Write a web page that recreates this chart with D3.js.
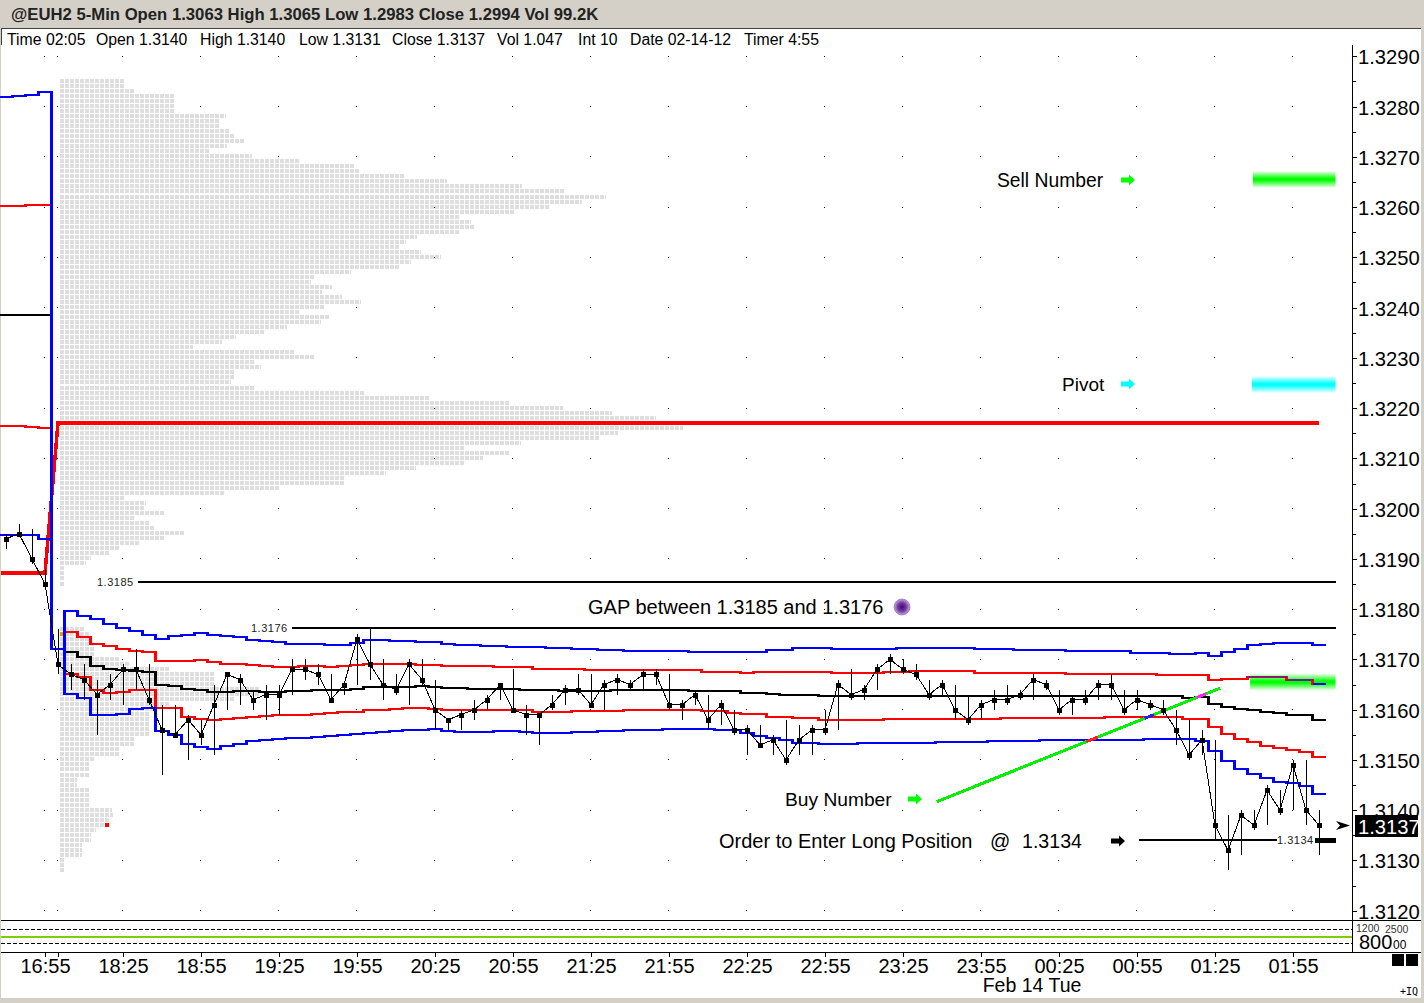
<!DOCTYPE html>
<html>
<head>
<meta charset="utf-8">
<title>@EUH2 5-Min</title>
<script src="https://cdn.jsdelivr.net/npm/d3@7"></script>
<style>
  html, body { margin: 0; padding: 0; background: #fff; overflow: hidden; }
  svg { display: block; }
  text { font-family: "Liberation Sans", Arial, sans-serif; fill: #000; }
  .crisp { shape-rendering: crispEdges; }
</style>
</head>
<body>
<div id="chart"></div>
<script>
// Bar times, one per 5 minute bar
var barTimes = [
  '16:40','16:45','16:50','16:55','18:00','18:05','18:10','18:15','18:20','18:25',
  '18:30','18:35','18:40','18:45','18:50','18:55','19:00','19:05','19:10','19:15',
  '19:20','19:25','19:30','19:35','19:40','19:45','19:50','19:55','20:00','20:05',
  '20:10','20:15','20:20','20:25','20:30','20:35','20:40','20:45','20:50','20:55',
  '21:00','21:05','21:10','21:15','21:20','21:25','21:30','21:35','21:40','21:45',
  '21:50','21:55','22:00','22:05','22:10','22:15','22:20','22:25','22:30','22:35',
  '22:40','22:45','22:50','22:55','23:00','23:05','23:10','23:15','23:20','23:25',
  '23:30','23:35','23:40','23:45','23:50','23:55','00:00','00:05','00:10','00:15',
  '00:20','00:25','00:30','00:35','00:40','00:45','00:50','00:55','01:00','01:05',
  '01:10','01:15','01:20','01:25','01:30','01:35','01:40','01:45','01:50','01:55',
  '02:00','02:05'
];

var closes = [
  1.3194,1.3195,1.3190,1.3185,1.3169,1.3167,1.3166,1.3163,1.3165,1.3168,
  1.3168,1.3162,1.3156,1.3155,1.3158,1.3155,1.3161,1.3167,1.3166,1.3162,
  1.3163,1.3163,1.3168,1.3168,1.3167,1.3162,1.3165,1.3174,1.3169,1.3165,
  1.3164,1.3169,1.3166,1.3160,1.3158,1.3159,1.3160,1.3162,1.3165,1.3160,
  1.3159,1.3159,1.3161,1.3164,1.3164,1.3161,1.3165,1.3166,1.3165,1.3167,
  1.3167,1.3161,1.3161,1.3163,1.3158,1.3161,1.3156,1.3156,1.3153,1.3154,
  1.3150,1.3154,1.3156,1.3156,1.3165,1.3163,1.3164,1.3168,1.3170,1.3168,
  1.3167,1.3163,1.3165,1.3160,1.3158,1.3161,1.3162,1.3162,1.3163,1.3166,
  1.3165,1.3160,1.3162,1.3162,1.3165,1.3165,1.3160,1.3162,1.3161,1.3160,
  1.3156,1.3151,1.3154,1.3137,1.3132,1.3139,1.3137,1.3144,1.3140,1.3149,
  1.3140,1.3137
];
var highs = [
  1.3195,1.3197,1.3196,1.3188,1.3176,1.3169,1.3169,1.3166,1.3167,1.3169,
  1.3172,1.3169,1.3161,1.3161,1.3159,1.3158,1.3165,1.3167,1.3167,1.3164,
  1.3165,1.3165,1.3170,1.3170,1.3169,1.3167,1.3165,1.3175,1.3176,1.3170,
  1.3167,1.3170,1.3170,1.3166,1.3158,1.3160,1.3162,1.3163,1.3165,1.3168,
  1.3161,1.3159,1.3163,1.3165,1.3167,1.3167,1.3166,1.3167,1.3166,1.3168,
  1.3168,1.3167,1.3162,1.3164,1.3163,1.3162,1.3160,1.3157,1.3157,1.3155,
  1.3158,1.3157,1.3157,1.3160,1.3166,1.3168,1.3165,1.3169,1.3171,1.3170,
  1.3169,1.3166,1.3166,1.3165,1.3163,1.3162,1.3164,1.3165,1.3164,1.3167,
  1.3166,1.3164,1.3163,1.3164,1.3166,1.3167,1.3164,1.3164,1.3162,1.3162,
  1.3160,1.3158,1.3156,1.3154,1.3139,1.3140,1.3140,1.3145,1.3144,1.3150,
  1.3150,1.3140
];
var lows = [
  1.3192,1.3195,1.3189,1.3184,1.3167,1.3164,1.3162,1.3155,1.3162,1.3161,
  1.3164,1.3161,1.3147,1.3155,1.3150,1.3153,1.3151,1.3160,1.3161,1.3160,
  1.3158,1.3159,1.3163,1.3166,1.3165,1.3162,1.3163,1.3165,1.3166,1.3162,
  1.3163,1.3161,1.3165,1.3156,1.3156,1.3156,1.3158,1.3160,1.3162,1.3160,
  1.3155,1.3153,1.3160,1.3161,1.3163,1.3161,1.3160,1.3163,1.3164,1.3164,
  1.3165,1.3160,1.3158,1.3161,1.3156,1.3157,1.3155,1.3151,1.3153,1.3151,
  1.3149,1.3151,1.3151,1.3155,1.3156,1.3162,1.3162,1.3164,1.3167,1.3167,
  1.3166,1.3162,1.3163,1.3158,1.3157,1.3158,1.3160,1.3161,1.3162,1.3162,
  1.3164,1.3159,1.3159,1.3161,1.3162,1.3162,1.3159,1.3160,1.3160,1.3159,
  1.3153,1.3150,1.3151,1.3134,1.3128,1.3131,1.3136,1.3137,1.3139,1.3140,
  1.3137,1.3131
];

// Stepped band lines, one value per bar
var upperBlue = [
  1.32820,1.32821,1.32823,1.32828,1.31720,1.31796,1.31787,1.31780,1.31770,1.31762,
  1.31756,1.31749,1.31740,1.31746,1.31749,1.31752,1.31749,1.31746,1.31744,1.31739,
  1.31737,1.31734,1.31731,1.31731,1.31731,1.31728,1.31728,1.31732,1.31738,1.31738,
  1.31736,1.31736,1.31734,1.31734,1.31731,1.31729,1.31729,1.31727,1.31727,1.31725,
  1.31725,1.31725,1.31722,1.31722,1.31720,1.31720,1.31719,1.31719,1.31717,1.31717,
  1.31717,1.31717,1.31717,1.31715,1.31715,1.31715,1.31715,1.31715,1.31715,1.31719,
  1.31719,1.31722,1.31722,1.31722,1.31721,1.31721,1.31721,1.31721,1.31721,1.31722,
  1.31723,1.31723,1.31722,1.31722,1.31722,1.31720,1.31720,1.31720,1.31718,1.31718,
  1.31718,1.31718,1.31716,1.31716,1.31716,1.31716,1.31716,1.31713,1.31713,1.31713,
  1.31711,1.31711,1.31713,1.31707,1.31714,1.31721,1.31728,1.31730,1.31732,1.31732,
  1.31732,1.31728
];
var upperRed = [
  1.32602,1.32602,1.32604,1.32604,1.31720,1.31754,1.31744,1.31731,1.31726,1.31720,
  1.31717,1.31714,1.31696,1.31696,1.31696,1.31698,1.31694,1.31691,1.31690,1.31688,
  1.31686,1.31684,1.31684,1.31686,1.31686,1.31685,1.31686,1.31688,1.31691,1.31690,
  1.31690,1.31690,1.31689,1.31688,1.31686,1.31686,1.31686,1.31686,1.31684,1.31684,
  1.31684,1.31681,1.31681,1.31681,1.31681,1.31679,1.31679,1.31679,1.31679,1.31679,
  1.31679,1.31678,1.31678,1.31678,1.31675,1.31675,1.31675,1.31673,1.31674,1.31674,
  1.31674,1.31674,1.31674,1.31674,1.31673,1.31673,1.31673,1.31673,1.31674,1.31675,
  1.31676,1.31676,1.31676,1.31676,1.31676,1.31673,1.31673,1.31673,1.31673,1.31673,
  1.31673,1.31673,1.31671,1.31671,1.31671,1.31671,1.31671,1.31671,1.31671,1.31669,
  1.31669,1.31669,1.31669,1.31660,1.31662,1.31662,1.31664,1.31664,1.31664,1.31659,
  1.31659,1.31652
];
var vwap = [
  1.32385,1.32385,1.32385,1.32385,1.31720,1.31714,1.31705,1.31686,1.31681,1.31679,
  1.31677,1.31675,1.31650,1.31647,1.31642,1.31640,1.31636,1.31636,1.31638,1.31638,
  1.31636,1.31636,1.31638,1.31638,1.31640,1.31639,1.31639,1.31642,1.31646,1.31646,
  1.31646,1.31646,1.31648,1.31646,1.31644,1.31643,1.31641,1.31641,1.31641,1.31641,
  1.31639,1.31639,1.31639,1.31638,1.31638,1.31638,1.31638,1.31640,1.31640,1.31640,
  1.31640,1.31640,1.31640,1.31638,1.31638,1.31638,1.31638,1.31634,1.31634,1.31631,
  1.31629,1.31629,1.31629,1.31627,1.31627,1.31627,1.31627,1.31627,1.31627,1.31627,
  1.31627,1.31627,1.31627,1.31627,1.31627,1.31627,1.31627,1.31627,1.31627,1.31627,
  1.31627,1.31627,1.31627,1.31627,1.31627,1.31627,1.31627,1.31627,1.31627,1.31627,
  1.31627,1.31624,1.31626,1.31611,1.31606,1.31602,1.31599,1.31596,1.31594,1.31590,
  1.31590,1.31579
];
var lowerRed = [
  1.32164,1.32164,1.32162,1.32160,1.31720,1.31671,1.31664,1.31639,1.31634,1.31635,
  1.31639,1.31639,1.31604,1.31604,1.31586,1.31581,1.31580,1.31581,1.31583,1.31586,
  1.31588,1.31589,1.31590,1.31590,1.31592,1.31594,1.31595,1.31596,1.31599,1.31600,
  1.31602,1.31603,1.31604,1.31602,1.31600,1.31600,1.31600,1.31600,1.31599,1.31599,
  1.31599,1.31596,1.31596,1.31596,1.31598,1.31598,1.31598,1.31598,1.31599,1.31599,
  1.31599,1.31599,1.31599,1.31599,1.31598,1.31598,1.31594,1.31592,1.31592,1.31586,
  1.31586,1.31583,1.31583,1.31580,1.31580,1.31580,1.31580,1.31580,1.31581,1.31581,
  1.31581,1.31581,1.31581,1.31581,1.31581,1.31581,1.31581,1.31583,1.31583,1.31583,
  1.31583,1.31583,1.31583,1.31583,1.31583,1.31585,1.31585,1.31585,1.31585,1.31585,
  1.31585,1.31582,1.31582,1.31566,1.31551,1.31542,1.31536,1.31528,1.31524,1.31519,
  1.31516,1.31505
];
var lowerBlue = [
  1.31948,1.31948,1.31948,1.31940,1.31720,1.31632,1.31624,1.31590,1.31590,1.31592,
  1.31601,1.31604,1.31558,1.31549,1.31531,1.31525,1.31522,1.31528,1.31532,1.31537,
  1.31539,1.31541,1.31543,1.31543,1.31545,1.31547,1.31549,1.31551,1.31553,1.31556,
  1.31558,1.31559,1.31560,1.31561,1.31558,1.31556,1.31556,1.31556,1.31558,1.31558,
  1.31555,1.31553,1.31553,1.31553,1.31555,1.31555,1.31557,1.31557,1.31559,1.31559,
  1.31559,1.31561,1.31561,1.31561,1.31561,1.31559,1.31559,1.31554,1.31548,1.31544,
  1.31539,1.31534,1.31533,1.31531,1.31531,1.31531,1.31533,1.31533,1.31533,1.31533,
  1.31533,1.31533,1.31535,1.31535,1.31535,1.31535,1.31537,1.31537,1.31537,1.31537,
  1.31539,1.31539,1.31539,1.31539,1.31539,1.31539,1.31539,1.31539,1.31542,1.31542,
  1.31542,1.31541,1.31538,1.31517,1.31498,1.31481,1.31472,1.31464,1.31457,1.31454,
  1.31448,1.31432
];

// Point of control line
var pocBars = [-0.4, 3, 4, 101];
var pocPrices = [1.31872, 1.31872, 1.32171, 1.32171];

// Market profile, cells per row from 1.3285 down to 1.3128
var profileTop = 1.3285;
var profileCells = [
  13,13,15,23,23,23,23,33.2,32,32,
  34,35,37,33.4,30,38.4,48,59,60,69,
  77.4,92.4,101,109.2,104.4,98,91,80,82.2,83,
  80,71.4,69.2,68,72.2,76.2,70.2,68,58.2,51,
  50.2,54.3,52.3,56.3,60.1,53,48,54,52.2,45.3,
  41,35.2,32.3,26.5,47,51,39,40.1,35,35,
  34.1,39,61,74,90,100.5,110.3,119.2,127.1,124.6,
  111.6,108,92.2,81,90,84.6,81,71.2,65.2,57,
  57,44,33,13,17.1,17,21,15,18,19,
  25,21,16,12,10,6.1,5.1,1,1,1,
  1,0,0,0,0,0,0,0,0,5,
  6,6,7,7,7,12,14,22,31,31,
  31,40,40,35,22,19,18,18,18,18,
  18,15,15,12,12,7,6,5.7,5.7,3.3,
  3.3,5.9,5.9,5.9,5.9,10.3,10.5,9.9,10,7.2,
  6.1,6.1,4.4,4.4,4.4,1,1,1
];

// Axis ticks
var priceTicks = [1.3290,1.3280,1.3270,1.3260,1.3250,1.3240,1.3230,1.3220,1.3210,1.3200,1.3190,1.3180,1.3170,1.3160,1.3150,1.3140,1.3130,1.3120];
var priceMinorTicks = [1.3285,1.3275,1.3265,1.3255,1.3245,1.3235,1.3225,1.3215,1.3205,1.3195,1.3185,1.3175,1.3165,1.3155,1.3145,1.3135,1.3125];
var timeLabels = ['16:55','18:25','18:55','19:25','19:55','20:25','20:55','21:25','21:55','22:25','22:55','23:25','23:55','00:25','00:55','01:25','01:55'];

// Header texts
var titleText = '@EUH2 5-Min Open 1.3063 High 1.3065 Low 1.2983 Close 1.2994 Vol 99.2K';
var infoTexts = ['Time 02:05','Open 1.3140','High 1.3140','Low 1.3131','Close 1.3137','Vol 1.047','Int 10','Date 02-14-12','Timer 4:55'];
var infoLefts = [7,96,200,299,392,497,578,630,744];

// Lower panel
var panelLevels = [1200, 2500];
var panelMid = 1850;

// Size variables
var width = 1424;
var height = 1003;
var axisX = 1352.5;
var panelTop = 920.5;
var panelBottom = 952.5;

var svg = d3.select('#chart')
    .append('svg')
    .attr('width', width)
    .attr('height', height);

var defs = svg.append('defs');

// Scales
var xScale = d3.scaleLinear().domain([0, 101]).range([6, 1319]);
var yScale = d3.scaleLinear().domain([1.3290, 1.3120]).range([56.3, 910.7]);
var panelScale = d3.scaleLinear().domain(panelLevels).range([943.5, 929.5]);

// Window frame
svg.append('rect').attr('width', width).attr('height', height).attr('fill', '#d4d0c8');
svg.append('rect').attr('x', 1).attr('y', 28).attr('width', 1420).attr('height', 970).attr('fill', '#fff');
svg.append('line').attr('class', 'crisp').attr('x1', 2).attr('x2', 1421).attr('y1', 28.5).attr('y2', 28.5).attr('stroke', '#404040');
svg.append('line').attr('class', 'crisp').attr('x1', 1.5).attr('x2', 1.5).attr('y1', 28).attr('y2', 45).attr('stroke', '#404040');

svg.append('text')
    .attr('x', 11).attr('y', 19.5)
    .style('font-size', '16.7px')
    .style('font-weight', 'bold')
    .style('fill', '#222')
    .text(titleText);

svg.selectAll('.info')
    .data(infoTexts)
    .enter()
    .append('text')
    .attr('class', 'info')
    .attr('x', (d, i) => infoLefts[i])
    .attr('y', 45)
    .style('font-size', '15.8px')
    .text((d) => d);

// Grid dots, they sit under the profile
var dotBars = timeLabels.map((t) => barTimes.indexOf(t)).concat([barTimes.indexOf('18:00')]);
dotBars.forEach((b) => {
    svg.append('g').attr('class', 'crisp').selectAll('rect')
        .data(priceTicks)
        .enter()
        .append('rect')
        .attr('x', Math.round(xScale(b)) - 1)
        .attr('y', (d) => Math.round(yScale(d) - 0.5))
        .attr('width', 1)
        .attr('height', 1)
        .attr('fill', '#000');
});

// Market profile
var rows = svg.append('g').attr('class', 'crisp').selectAll('g')
    .data(profileCells)
    .enter()
    .append('g')
    .attr('transform', (d, i) => `translate(60, ${Math.round(yScale(profileTop - i * 0.0001) - 0.5) - 2})`);

rows.selectAll('rect')
    .data((d) => d3.range(Math.ceil(d)).map((c) => ({ col: c, len: Math.min(4, (d - c) * 5) })))
    .enter()
    .append('rect')
    .attr('x', (d) => d.col * 5)
    .attr('width', (d) => d.len)
    .attr('height', 4)
    .attr('fill', '#dedede');

// Two coloured profile cells
svg.append('rect').attr('class', 'crisp').attr('x', 60).attr('y', Math.round(yScale(1.3175) - 0.5) - 2).attr('width', 4).attr('height', 4).attr('fill', '#ff9000');
svg.append('rect').attr('class', 'crisp').attr('x', 105).attr('y', Math.round(yScale(1.3137) - 0.5) - 2).attr('width', 4).attr('height', 4).attr('fill', '#ff0000');

// Target bands
function addBand(id, color, price, startBar) {
    var grad = defs.append('linearGradient').attr('id', id).attr('x1', 0).attr('x2', 0).attr('y1', 0).attr('y2', 1);
    grad.append('stop').attr('offset', '0%').attr('stop-color', color).attr('stop-opacity', 0.1);
    grad.append('stop').attr('offset', '45%').attr('stop-color', color);
    grad.append('stop').attr('offset', '55%').attr('stop-color', color);
    grad.append('stop').attr('offset', '100%').attr('stop-color', color).attr('stop-opacity', 0.1);
    svg.append('rect')
        .attr('x', xScale(startBar))
        .attr('width', xScale(102.27) - xScale(startBar))
        .attr('y', yScale(price + 0.00016))
        .attr('height', yScale(price - 0.00016) - yScale(price + 0.00016))
        .attr('fill', `url(#${id})`);
}
addBand('sellBand', '#00ff00', 1.32655, 95.92);
addBand('pivotBand', '#00ffff', 1.32247, 95.85);
addBand('buyBand', '#00ff00', 1.31655, 95.7);

// Stepped lines, each value holds from half a bar before to half a bar after
var stepLine = d3.line()
    .x((d) => xScale(d.bar - 0.5))
    .y((d) => Math.round(yScale(d.price)))
    .curve(d3.curveStepAfter);

function stepPoints(values, from, to) {
    var pts = d3.range(from, to + 1).map((i) => ({ bar: i, price: values[i] }));
    pts.push({ bar: to + 1, price: values[to] });
    return pts;
}

function drawStep(values, color, from, to) {
    svg.append('path')
        .attr('class', 'crisp')
        .attr('d', stepLine(stepPoints(values, from, to)))
        .attr('fill', 'none')
        .attr('stroke', color)
        .attr('stroke-width', 2.5);
}

drawStep(upperRed, '#ff0000', 0, 101);
drawStep(lowerRed, '#ff0000', 0, 101);
drawStep(upperRed, '#8a1a70', 96, 98);
drawStep(upperRed, '#6a1aa0', 99, 100);
drawStep(upperRed, '#0000ff', 101, 101);

// Order levels
var levelPrices = [1.31855, 1.31762, 1.3134];
var levelLabels = ['1.3185', '1.3176', '1.3134'];
var levelStarts = [10.15, 22, 87.15];
var levelEnds = [102.3, 102.3, 97.8];
var levelLabelX = [97, 251, 1277];

levelPrices.forEach((p, i) => {
    svg.append('line')
        .attr('class', 'crisp')
        .attr('x1', xScale(levelStarts[i]))
        .attr('x2', xScale(levelEnds[i]))
        .attr('y1', Math.round(yScale(p)))
        .attr('y2', Math.round(yScale(p)))
        .attr('stroke', '#000')
        .attr('stroke-width', 2);
    svg.append('text')
        .attr('x', levelLabelX[i])
        .attr('y', Math.round(yScale(p)) + 4)
        .style('font-size', '11px')
        .style('letter-spacing', '0.5px')
        .style('fill', '#222')
        .text(levelLabels[i]);
});

// Working order stub at the right edge
svg.append('line')
    .attr('class', 'crisp')
    .attr('x1', xScale(100.7))
    .attr('x2', xScale(102.3))
    .attr('y1', Math.round(yScale(1.3134)))
    .attr('y2', Math.round(yScale(1.3134)))
    .attr('stroke', '#000')
    .attr('stroke-width', 5);

// Point of control, under the blue lines
svg.append('path')
    .attr('class', 'crisp')
    .attr('d', d3.line().x((d) => xScale(d)).y((d, i) => Math.round(yScale(pocPrices[i])))(pocBars))
    .attr('fill', 'none')
    .attr('stroke', '#ff0000')
    .attr('stroke-width', 3.5);

drawStep(vwap, '#000000', 0, 101);
drawStep(upperBlue, '#0000ff', 0, 101);
drawStep(lowerBlue, '#0000ff', 0, 101);

// Trend line from the buy number
var trendBars = [71.6, 93.4];
var trendPrices = [1.31417, 1.31643];
var trendScale = d3.scaleLinear().domain(trendBars).range(trendPrices);
var trendLine = d3.line().x((d) => xScale(d)).y((d) => yScale(trendScale(d)));

svg.append('path')
    .attr('class', 'crisp')
    .attr('d', trendLine(trendBars))
    .attr('stroke', '#00f000')
    .attr('stroke-width', 3)
    .attr('fill', 'none');

var crossBars = [[83.1, 84], [87.6, 88.3], [91.6, 92.3]];
var crossColors = ['#ff2020', '#2020ff', '#ff20ff'];
crossBars.forEach((c, i) => {
    svg.append('path')
        .attr('class', 'crisp')
        .attr('d', trendLine(c))
        .attr('stroke', crossColors[i])
        .attr('stroke-width', 3)
        .attr('fill', 'none');
});

// Price bars
var bars = svg.append('g');

bars.append('path')
    .attr('class', 'crisp')
    .attr('d', d3.line().x((d, i) => xScale(i)).y((d) => yScale(d))(closes))
    .attr('fill', 'none')
    .attr('stroke', '#000')
    .attr('stroke-width', 1);

bars.selectAll('.bar')
    .data(closes)
    .enter()
    .append('line')
    .attr('class', 'bar crisp')
    .attr('x1', (d, i) => Math.round(xScale(i)) + 0.5)
    .attr('x2', (d, i) => Math.round(xScale(i)) + 0.5)
    .attr('y1', (d, i) => yScale(highs[i]))
    .attr('y2', (d, i) => yScale(lows[i]))
    .attr('stroke', '#000')
    .attr('stroke-width', 1);

bars.selectAll('.close')
    .data(closes)
    .enter()
    .append('rect')
    .attr('class', 'close crisp')
    .attr('x', (d, i) => Math.round(xScale(i)) - 2)
    .attr('y', (d) => Math.round(yScale(d)) - 2)
    .attr('width', 5)
    .attr('height', 5)
    .attr('fill', '#000');

// Lower panel
function panelLine(y, color, dash) {
    svg.append('line')
        .attr('class', 'crisp')
        .attr('x1', 1).attr('x2', axisX)
        .attr('y1', y).attr('y2', y)
        .attr('stroke', color)
        .attr('stroke-width', 1)
        .attr('stroke-dasharray', dash);
}
panelLine(panelScale(panelLevels[1]), '#000', '4,2');
panelLine(panelScale(panelLevels[0]), '#000', '4,2');
svg.append('line')
    .attr('class', 'crisp')
    .attr('x1', 1).attr('x2', axisX)
    .attr('y1', panelScale(panelMid)).attr('y2', panelScale(panelMid))
    .attr('stroke', '#7fcc00')
    .attr('stroke-width', 2);

svg.append('line').attr('class', 'crisp').attr('x1', 1).attr('x2', 1421).attr('y1', panelTop).attr('y2', panelTop).attr('stroke', '#000');
svg.append('line').attr('class', 'crisp').attr('x1', 1).attr('x2', 1421).attr('y1', panelBottom).attr('y2', panelBottom).attr('stroke', '#000');

// Price axis
var yAxis = svg.append('g')
    .attr('transform', `translate(${axisX}, 0)`)
    .call(d3.axisRight(yScale).tickValues(priceTicks).tickFormat(d3.format('.4f')).tickSize(4).tickPadding(1.5));
yAxis.select('.domain').remove();
yAxis.selectAll('line').attr('class', 'crisp');
yAxis.selectAll('text')
    .attr('dy', '0.37em')
    .style('font-size', '20.2px')
    .style('font-family', '"Liberation Sans", Arial, sans-serif');

var yMinor = svg.append('g')
    .attr('transform', `translate(${axisX}, 0)`)
    .call(d3.axisRight(yScale).tickValues(priceMinorTicks).tickFormat('').tickSize(3));
yMinor.select('.domain').remove();
yMinor.selectAll('line').attr('class', 'crisp');

svg.append('line').attr('class', 'crisp').attr('x1', axisX).attr('x2', axisX).attr('y1', 45).attr('y2', panelBottom).attr('stroke', '#000');

// Time axis
var xAxis = svg.append('g')
    .attr('transform', `translate(0, ${panelBottom})`)
    .call(d3.axisBottom(xScale)
        .tickValues(dotBars)
        .tickFormat((d) => timeLabels.indexOf(barTimes[d]) >= 0 ? barTimes[d] : '')
        .tickSize(4)
        .tickPadding(2));
xAxis.select('.domain').remove();
xAxis.selectAll('line').attr('class', 'crisp');
xAxis.selectAll('text').style('font-size', '20px').style('font-family', '"Liberation Sans", Arial, sans-serif');

svg.append('text')
    .attr('x', 1032).attr('y', 992)
    .attr('text-anchor', 'middle')
    .style('font-size', '19.5px')
    .text('Feb 14 Tue');

// Last price flag
svg.append('rect').attr('class', 'crisp').attr('x', 1355).attr('y', 815).attr('width', 63).attr('height', 22).attr('fill', '#000');
svg.append('text')
    .attr('x', 1358).attr('y', 833.5)
    .style('font-size', '20.2px')
    .style('fill', '#fff')
    .text('1.3137');
svg.append('path').attr('d', 'M1336,821 L1350,825.5 L1336,830 L1340,825.5 Z').attr('fill', '#000');

// Lower panel labels
defs.append('clipPath').attr('id', 'panelClip').append('rect').attr('x', 1353).attr('y', 921).attr('width', 68).attr('height', 31);
var panelLabels = svg.append('g').attr('clip-path', 'url(#panelClip)');
panelLabels.append('text').attr('x', 1356).attr('y', 932).style('font-size', '10.5px').style('fill', '#333').text('1200');
panelLabels.append('text').attr('x', 1385).attr('y', 933).style('font-size', '10.5px').style('fill', '#333').text('2500');
panelLabels.append('text').attr('x', 1359).attr('y', 949).style('font-size', '20px').text('800');
panelLabels.append('text').attr('x', 1393).attr('y', 949).style('font-size', '12px').text('00');

svg.append('rect').attr('class', 'crisp').attr('x', 1392).attr('y', 954).attr('width', 12).attr('height', 12).attr('fill', '#000');
svg.append('rect').attr('class', 'crisp').attr('x', 1406).attr('y', 954).attr('width', 12).attr('height', 12).attr('fill', '#000');
svg.append('text').attr('x', 1400).attr('y', 995).style('font-size', '10px').style('font-family', '"DejaVu Sans Mono", monospace').text('+IQ');

// Annotations
var noteTexts = ['Sell Number', 'Pivot', 'Buy Number', 'GAP between 1.3185 and 1.3176', 'Order to Enter Long Position', '@', '1.3134'];
var noteX = [997, 1062, 785, 588, 719, 990, 1022];
var noteY = [187, 391, 806, 614, 848, 848, 848];
var noteSizes = [19.3, 19, 19.2, 20, 20, 20, 19.6];

svg.selectAll('.note')
    .data(noteTexts)
    .enter()
    .append('text')
    .attr('class', 'note')
    .attr('x', (d, i) => noteX[i])
    .attr('y', (d, i) => noteY[i])
    .style('font-size', (d, i) => noteSizes[i] + 'px')
    .text((d) => d);

function arrow(x, y, color) {
    svg.append('path')
        .attr('d', `M${x},${y - 2.5} h8 v-3 l6,5.5 l-6,5.5 v-3 h-8 Z`)
        .attr('fill', color);
}
arrow(1121, 180, '#00ff00');
arrow(1121, 384, '#00ffff');
arrow(908, 799, '#00ff00');
arrow(1111, 841, '#000000');

// Purple ball next to the gap note
var ball = defs.append('radialGradient').attr('id', 'ball').attr('cx', '50%').attr('cy', '50%').attr('r', '55%');
ball.append('stop').attr('offset', '0%').attr('stop-color', '#3a0f5c');
ball.append('stop').attr('offset', '50%').attr('stop-color', '#7a3aa8');
ball.append('stop').attr('offset', '100%').attr('stop-color', '#d8c0ee');
svg.append('circle').attr('cx', 902).attr('cy', 607).attr('r', 8).attr('fill', 'url(#ball)').attr('stroke', '#6a4a8a').attr('stroke-width', 0.5);
</script>
</body>
</html>
